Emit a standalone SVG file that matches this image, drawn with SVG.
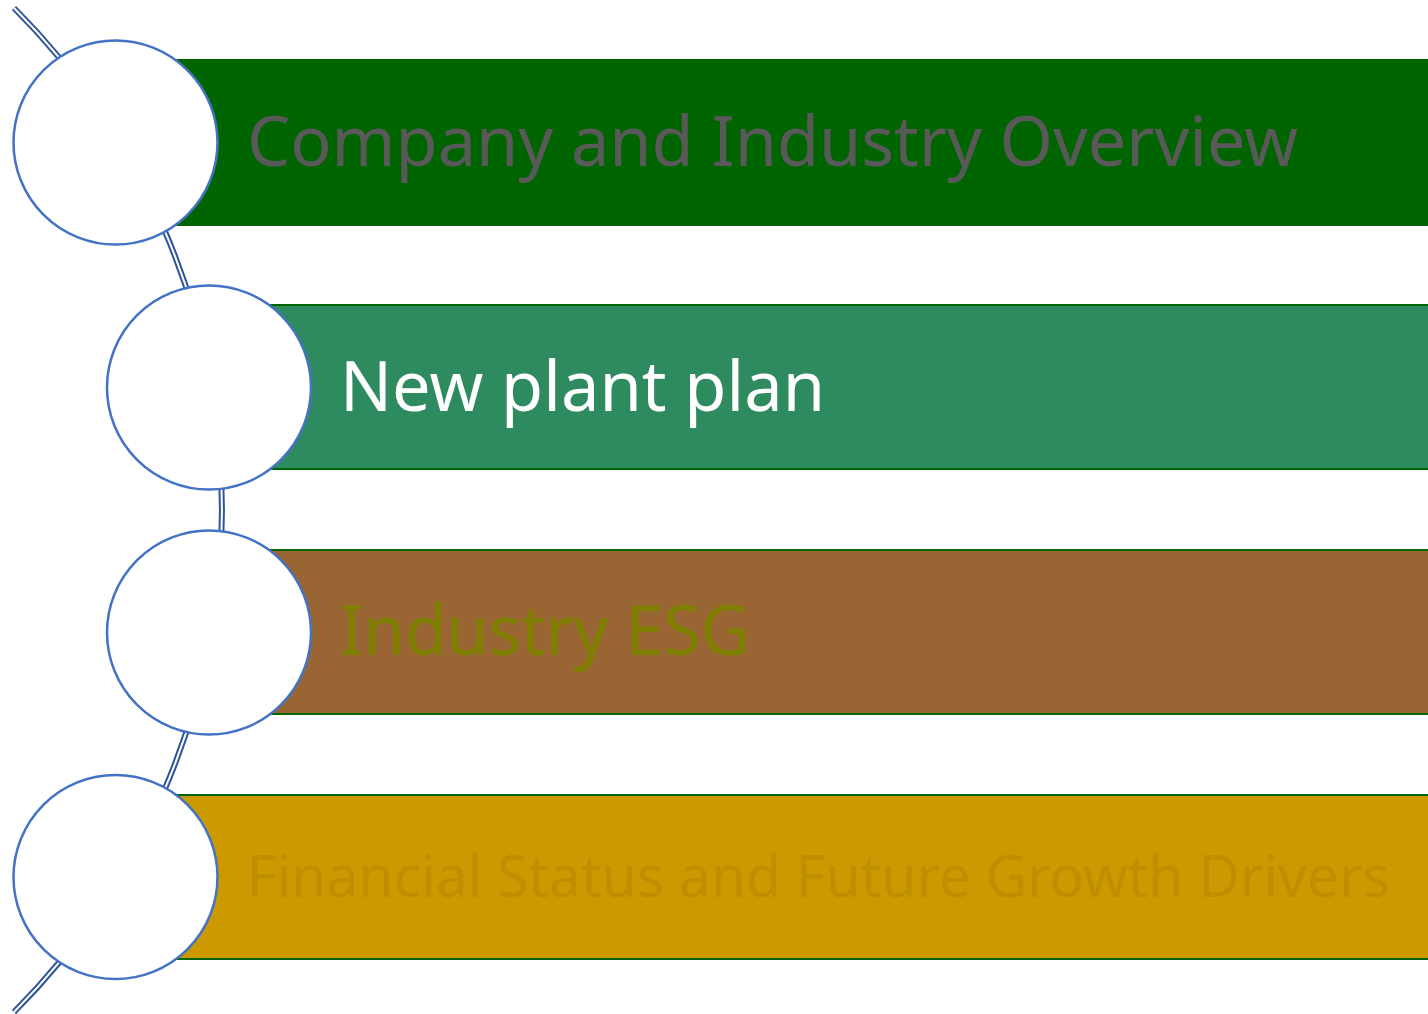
<svg xmlns="http://www.w3.org/2000/svg" width="1428" height="1014" viewBox="0 0 1428 1014">
<style>
.bar{stroke:#006400;stroke-width:2}
.node circle{fill:#FFFFFF;stroke:#4472C4;stroke-width:2.5}
.lbl{font-family:"Noto Sans","Open Sans","Liberation Sans",sans-serif;font-weight:normal}
</style>
<rect width="1428" height="1014" fill="#FFFFFF"/>
<g id="connectors">
<path d="M 14 8 A 710 710 0 0 1 14 1012" fill="none" stroke="#2F5597" stroke-width="6"/>
<path d="M 14 8 A 710 710 0 0 1 14 1012" fill="none" stroke="#FFFFFF" stroke-width="2"/>
</g>
<g id="node1" class="node">
<rect class="bar" x="115" y="60" width="1320" height="165" fill="#006400"/>
<circle cx="115.5" cy="142.5" r="102"/>
<text class="lbl" x="247" y="166" font-size="70" fill="#595959" textLength="1051" lengthAdjust="spacingAndGlyphs">Company and Industry Overview</text>
</g>
<g id="node2" class="node">
<rect class="bar" x="209" y="305" width="1226" height="164" fill="#2E8B5F"/>
<circle cx="209" cy="387.5" r="102"/>
<text class="lbl" x="340" y="411" font-size="70" fill="#FFFFFF" font-weight="500" textLength="485" lengthAdjust="spacingAndGlyphs">New plant plan</text>
</g>
<g id="node3" class="node">
<rect class="bar" x="209" y="550" width="1226" height="164" fill="#996633"/>
<circle cx="209" cy="632.5" r="102"/>
<text class="lbl" x="340" y="655" font-size="70" fill="#808000" textLength="410" lengthAdjust="spacingAndGlyphs">Industry ESG</text>
</g>
<g id="node4" class="node">
<rect class="bar" x="115" y="795" width="1320" height="164" fill="#CC9900"/>
<circle cx="115.5" cy="877" r="102"/>
<text class="lbl" x="247" y="897" font-size="59" fill="#BF8F00" textLength="1143" lengthAdjust="spacingAndGlyphs">Financial Status and Future Growth Drivers</text>
</g>
</svg>
